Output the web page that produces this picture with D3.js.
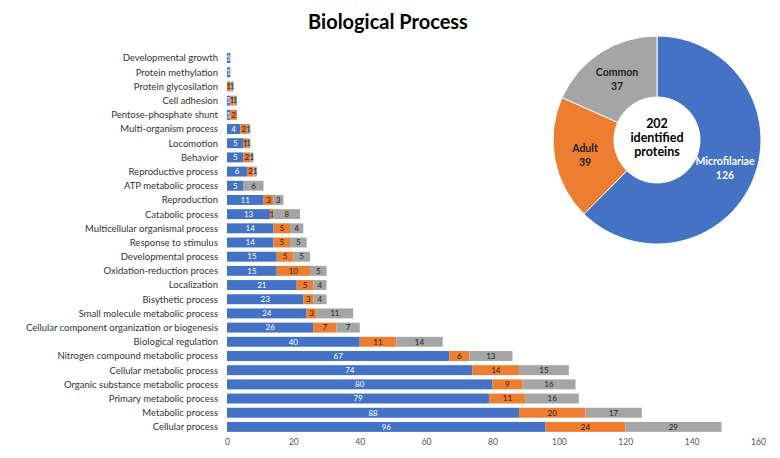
<!DOCTYPE html>
<html>
<head>
<meta charset="utf-8">
<script src="https://cdn.jsdelivr.net/npm/d3@7"></script>
<style>
  body { margin: 0; background: #fff; }
  svg { font-family: Lato, "Open Sans", sans-serif; }
</style>
</head>
<body>
<div id="chart"></div>
<script>
const categories = [
  "Developmental growth", "Protein methylation", "Protein glycosilation", "Cell adhesion",
  "Pentose-phosphate shunt", "Multi-organism process", "Locomotion", "Behavior",
  "Reproductive process", "ATP metabolic process", "Reproduction", "Catabolic process",
  "Multicellular organismal process", "Response to stimulus", "Developmental process",
  "Oxidation-reduction proces", "Localization", "Bisythetic process",
  "Small molecule metabolic process", "Cellular component organization or biogenesis",
  "Biological regulation", "Nitrogen compound metabolic process", "Cellular metabolic process",
  "Organic substance metabolic process", "Primary metabolic process", "Metabolic process",
  "Cellular process"
];
const microfilariae = [1, 1, 0, 1, 1, 4, 5, 5, 6, 5, 11, 13, 14, 14, 15, 15, 21, 23, 24, 26, 40, 67, 74, 80, 79, 88, 96];
const adult =         [0, 0, 1, 1, 2, 2, 1, 2, 2, 0, 3, 1, 5, 5, 5, 10, 5, 3, 3, 7, 11, 6, 14, 9, 11, 20, 24];
const common =        [0, 0, 1, 1, 0, 1, 1, 1, 1, 6, 3, 8, 4, 5, 5, 5, 4, 4, 11, 7, 14, 13, 15, 16, 16, 17, 29];
const seriesNames = ["Microfilariae", "Adult", "Common"];
const colors = ["#4472C4", "#ED7D31", "#A5A5A5"];
const xTicks = [0, 20, 40, 60, 80, 100, 120, 140, 160];

const pieLabels = ["Microfilariae", "Adult", "Common"];
const pieValues = [126, 39, 37];
const centerLines = ["202", "identified", "proteins"];

const W = 780, H = 458;
const svg = d3.select("#chart").append("svg").attr("width", W).attr("height", H);

svg.append("text")
  .attr("x", 388).attr("y", 29)
  .attr("text-anchor", "middle")
  .attr("font-size", 20).attr("font-weight", "bold").attr("fill", "#000")
  .text("Biological Process");

// bar chart
const x = d3.scaleLinear().domain([0, 160]).range([227, 758]);
const y = d3.scaleBand().domain(categories).range([51, 434]).paddingInner(0.3).paddingOuter(0.15);

const rows = categories.map((c, i) => ({ cat: c, vals: [microfilariae[i], adult[i], common[i]] }));
const stacked = d3.stack().keys([0, 1, 2]).value((d, k) => d.vals[k])(rows);

stacked.forEach((layer, k) => {
  const g = svg.append("g");
  g.selectAll("rect").data(layer).enter().append("rect")
    .attr("x", d => x(d[0]))
    .attr("y", d => y(d.data.cat))
    .attr("width", d => x(d[1]) - x(d[0]))
    .attr("height", y.bandwidth())
    .attr("fill", colors[k]);
  g.selectAll("text").data(layer.filter(d => d[1] - d[0] > 0)).enter().append("text")
    .attr("x", d => (x(d[0]) + x(d[1])) / 2)
    .attr("y", d => y(d.data.cat) + y.bandwidth() / 2 + 2.8)
    .attr("text-anchor", "middle")
    .attr("font-size", 8)
    .attr("fill", k === 0 ? "#fff" : "#222")
    .text(d => d[1] - d[0]);
});

svg.append("g").selectAll("text").data(categories).enter().append("text")
  .attr("x", 218)
  .attr("y", d => y(d) + y.bandwidth() / 2 + 3.4)
  .attr("text-anchor", "end")
  .attr("font-size", 9.5)
  .attr("fill", "#333")
  .text(d => d);

const xAxis = svg.append("g").attr("transform", "translate(0,436)")
  .call(d3.axisBottom(x).tickValues(xTicks).tickSize(0).tickPadding(3));
xAxis.select(".domain").remove();
xAxis.selectAll("text").attr("font-size", 8.5).attr("fill", "#555")
  .attr("font-family", "Lato, sans-serif");

// donut
const cx = 657, cy = 140, rOut = 104, rIn = 43;
const pie = d3.pie().sort(null).value(d => d)(pieValues);
const arc = d3.arc().innerRadius(rIn).outerRadius(rOut);
const pg = svg.append("g").attr("transform", `translate(${cx},${cy})`);
pg.selectAll("path").data(pie).enter().append("path")
  .attr("d", arc)
  .attr("fill", (d, i) => colors[i])
  .attr("stroke", "#fff").attr("stroke-width", 1);

const labelPos = [[68, 25], [-72, 12], [-40, -64]];
pg.selectAll("text.pl").data(pie).enter().append("text")
  .attr("class", "pl")
  .attr("text-anchor", "middle")
  .attr("font-size", 10.5).attr("font-weight", "bold")
  .attr("fill", (d, i) => i === 0 ? "#fff" : "#222")
  .each(function (d, i) {
    const t = d3.select(this);
    t.append("tspan").attr("x", labelPos[i][0]).attr("y", labelPos[i][1]).text(pieLabels[i]);
    t.append("tspan").attr("x", labelPos[i][0]).attr("y", labelPos[i][1] + 13.5).text(pieValues[i]);
  });

pg.append("text")
  .attr("text-anchor", "middle")
  .attr("font-size", 12.5).attr("font-weight", "bold").attr("fill", "#000")
  .selectAll("tspan").data(centerLines).enter().append("tspan")
  .attr("x", 0).attr("y", (d, i) => -12 + i * 14)
  .text(d => d);
</script>
</body>
</html>
